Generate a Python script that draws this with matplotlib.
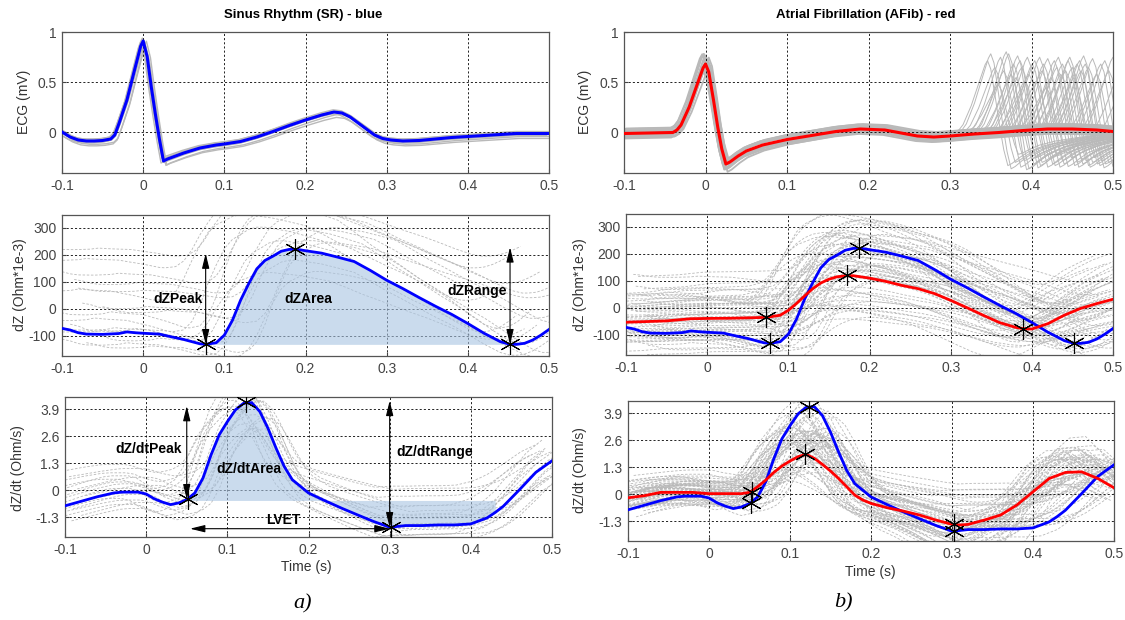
import numpy as np
import matplotlib
matplotlib.use("Agg")
import matplotlib.pyplot as plt

plt.rcParams['font.family'] = ['Liberation Sans', 'DejaVu Sans']

# ---- ECG, mean beats ----
sr_ecg_t = [-0.1, -0.09, -0.08, -0.07, -0.06, -0.05, -0.04, -0.035, -0.03, -0.025, -0.02, -0.01, -0.003,
            0.0, 0.005, 0.01, 0.015, 0.02, 0.025, 0.03, 0.04, 0.05, 0.07, 0.09, 0.1, 0.12, 0.14, 0.16, 0.18,
            0.2, 0.22, 0.235, 0.245, 0.255, 0.265, 0.275, 0.285, 0.295, 0.305, 0.32, 0.34, 0.36, 0.38, 0.4,
            0.43, 0.46, 0.5]
sr_ecg_v = [0.0, -0.05, -0.08, -0.09, -0.09, -0.085, -0.07, -0.03, 0.08, 0.2, 0.32, 0.64, 0.86,
            0.91, 0.75, 0.45, 0.18, -0.07, -0.29, -0.27, -0.24, -0.21, -0.16, -0.13, -0.12, -0.095, -0.05,
            0.005, 0.065, 0.12, 0.17, 0.2, 0.19, 0.15, 0.09, 0.03, -0.03, -0.065, -0.08, -0.09, -0.085,
            -0.07, -0.055, -0.045, -0.03, -0.015, -0.015]

af_ecg_t = [-0.1, -0.07, -0.04, -0.035, -0.03, -0.02, -0.01, -0.003, 0.0, 0.004, 0.01, 0.015, 0.02, 0.025,
            0.03, 0.04, 0.05, 0.07, 0.1, 0.13, 0.16, 0.19, 0.22, 0.24, 0.26, 0.28, 0.3, 0.33, 0.36, 0.39,
            0.42, 0.45, 0.48, 0.5]
af_ecg_v = [-0.015, -0.01, -0.005, 0.02, 0.07, 0.25, 0.48, 0.64, 0.68, 0.6, 0.31, 0.05, -0.17, -0.32,
            -0.3, -0.24, -0.19, -0.13, -0.075, -0.035, 0.005, 0.03, 0.02, -0.01, -0.04, -0.05, -0.04,
            -0.02, -0.005, 0.015, 0.03, 0.03, 0.02, 0.005]

# ---- dZ ----
sr_dz_t = [-0.1, -0.09, -0.08, -0.07, -0.05, -0.03, -0.02, -0.01, 0.0, 0.02, 0.03, 0.05, 0.06, 0.07, 0.077,
           0.09, 0.1, 0.11, 0.12, 0.13, 0.14, 0.15, 0.16, 0.17, 0.18, 0.19, 0.2, 0.22, 0.24, 0.26, 0.28,
           0.3, 0.32, 0.34, 0.36, 0.38, 0.4, 0.42, 0.44, 0.452, 0.46, 0.47, 0.48, 0.49, 0.5]
sr_dz_v = [-72, -78, -88, -93, -94, -91, -85, -88, -90, -93, -100, -113, -121, -129, -131,
           -125, -97, -42, 32, 93, 148, 179, 195, 213, 220, 220, 215, 206, 191, 175, 142,
           106, 75, 42, 10, -20, -54, -90, -121, -131, -131, -127, -115, -97, -76]

af_dz_t = [-0.1, -0.05, -0.02, 0.0, 0.03, 0.06, 0.073, 0.09, 0.1, 0.11, 0.12, 0.13, 0.14, 0.15, 0.16,
           0.172, 0.18, 0.2, 0.22, 0.24, 0.26, 0.28, 0.3, 0.32, 0.34, 0.36, 0.38, 0.39, 0.4, 0.42, 0.44,
           0.46, 0.48, 0.5]
af_dz_v = [-53, -48, -40, -39, -38, -36, -35, -27, -9, 16, 44, 71, 92, 106, 115,
           119, 119, 110, 98, 83, 71, 53, 28, 1, -27, -54, -72, -77, -78, -58, -27,
           -2, 16, 32]

# ---- dZ/dt ----
sr_dzdt_t = [-0.1, -0.08, -0.06, -0.04, -0.03, -0.01, 0.0, 0.01, 0.02, 0.03, 0.04, 0.05, 0.06, 0.07, 0.08,
             0.09, 0.1, 0.11, 0.12, 0.13, 0.14, 0.15, 0.16, 0.17, 0.18, 0.19, 0.2, 0.22, 0.24, 0.26, 0.28,
             0.3, 0.32, 0.34, 0.36, 0.38, 0.4, 0.42, 0.43, 0.44, 0.46, 0.48, 0.5]
sr_dzdt_v = [-0.76, -0.54, -0.32, -0.14, -0.1, -0.1, -0.19, -0.42, -0.58, -0.7, -0.62, -0.46, -0.14, 0.58,
             1.7, 2.66, 3.29, 3.86, 4.18, 4.21, 3.78, 2.98, 2.02, 1.14, 0.5, 0.18, -0.14, -0.51, -0.86,
             -1.19, -1.51, -1.79, -1.71, -1.71, -1.68, -1.68, -1.63, -1.34, -1.08, -0.78, 0.02, 0.85, 1.41]

af_dzdt_t = [-0.1, -0.08, -0.06, -0.04, -0.02, 0.0, 0.02, 0.04, 0.05, 0.06, 0.07, 0.08, 0.09, 0.1, 0.11,
             0.12, 0.13, 0.14, 0.15, 0.16, 0.17, 0.18, 0.19, 0.2, 0.22, 0.24, 0.26, 0.28, 0.3, 0.31, 0.32,
             0.34, 0.36, 0.38, 0.4, 0.42, 0.44, 0.46, 0.48, 0.5]
af_dzdt_v = [-0.18, -0.08, 0.08, 0.08, 0.08, 0.02, 0.02, 0.02, 0.08, 0.35, 0.67, 1.04, 1.35, 1.59, 1.8,
             1.91, 1.72, 1.43, 1.11, 0.75, 0.35, -0.05, -0.29, -0.45, -0.66, -0.82, -1.01, -1.25, -1.46,
             -1.49, -1.46, -1.25, -1.01, -0.53, 0.11, 0.75, 1.04, 1.07, 0.75, 0.3]

# ---- feature points ----
sr_dz_mark_t = [0.077, 0.187, 0.452]
sr_dz_mark_v = [-131, 222, -131]
af_dz_mark_t = [0.073, 0.172, 0.389]
af_dz_mark_v = [-33, 120, -77]
sr_dzdt_mark_t = [0.052, 0.123, 0.302]
sr_dzdt_mark_v = [-0.45, 4.25, -1.8]
af_dzdt_mark_t = [0.053, 0.119, 0.303]
af_dzdt_mark_v = [0.1, 1.95, -1.45]
sr_dzdt_mark_v_right = [-0.45, 4.2, -1.8]

# ---- individual beats (grey), as shift / scale / offset of a mean beat ----
sr_ecg_g_shift = [-0.003, 0.002, 0.004, -0.002, 0.001, 0.003, -0.001]
sr_ecg_g_scale = [1.0, 0.97, 1.03, 0.95, 1.02, 0.98, 1.01]
sr_ecg_g_off = [-0.02, 0.01, -0.03, 0.015, -0.01, -0.05, 0.02]

af_ecg_g_shift = [-0.004, -0.003, -0.002, -0.001, 0.0, 0.001, 0.002, 0.003, 0.004, -0.002, 0.002, 0.0, -0.003, 0.003]
af_ecg_g_scale = [1.1, 0.95, 1.15, 1.0, 1.05, 0.92, 1.12, 0.98, 1.08, 1.02, 0.96, 1.14, 1.06, 0.94]
af_ecg_g_off = [0.03, -0.03, 0.0, 0.04, -0.02, 0.02, -0.04, 0.05, 0.01, -0.05, 0.03, -0.01, 0.045, -0.035]

# next (irregular) AFib beats: R-peak time and amplitude factor
af_next_r = [0.346, 0.35, 0.355, 0.359, 0.362, 0.366, 0.369, 0.372, 0.375, 0.378, 0.381, 0.383, 0.386,
             0.388, 0.392, 0.395, 0.397, 0.401, 0.404, 0.406, 0.41, 0.413, 0.415, 0.418, 0.42, 0.424,
             0.428, 0.431, 0.433, 0.436, 0.438, 0.442, 0.445, 0.447, 0.45, 0.452, 0.456, 0.459, 0.461,
             0.464, 0.466, 0.47, 0.475, 0.48, 0.485, 0.49, 0.495, 0.5, 0.51, 0.52, 0.53]
af_next_amp = [1.05, 1.15, 0.95, 0.7, 1.1, 0.9, 1.18, 1.15, 0.85, 1.0, 0.8, 1.12, 1.05, 0.95, 0.75, 1.1,
               0.85, 1.0, 1.05, 0.75, 1.1, 0.9, 1.0, 0.65, 1.08, 0.8, 1.05, 0.95, 1.1, 0.85, 1.0, 0.9,
               1.05, 1.1, 0.95, 0.8, 1.0, 1.05, 0.9, 1.12, 1.0, 0.95, 1.08, 0.85, 1.0, 1.05, 0.9, 1.1,
               0.95, 1.0, 0.9]

sr_dz_g_shift = [-0.06, -0.04, -0.03, -0.02, -0.01, 0.0, 0.01, 0.02, 0.03, 0.05, -0.05, 0.04, 0.015, -0.015, 0.025, -0.035]
sr_dz_g_scale = [0.9, 1.1, 0.7, 1.3, 0.8, 1.0, 1.2, 0.6, 0.9, 1.0, 0.75, 1.15, 0.85, 1.05, 0.95, 0.65]
sr_dz_g_off = [150, 60, -20, 100, 200, -40, 30, 120, -60, 80, 250, -10, 170, 20, 90, 280]

af_dz_g_shift = [-0.04, -0.035, -0.03, -0.028, -0.025, -0.022, -0.02, -0.018, -0.015, -0.012, -0.01, -0.008,
                 -0.006, -0.004, -0.002, 0.0, 0.002, 0.004, 0.006, 0.008, 0.01, 0.012, 0.014, 0.016, 0.018,
                 0.02, 0.022, 0.025, 0.028, 0.03, 0.033, 0.036, 0.04, -0.032, -0.016, 0.0, 0.015, 0.026,
                 -0.005, 0.009]
af_dz_g_scale = [1.2, 0.8, 1.5, 0.6, 1.1, 1.7, 0.9, 1.3, 0.7, 1.9, 1.0, 1.4, 0.5, 1.2, 0.8, 1.6, 1.1, 0.7,
                 1.3, 0.9, 1.8, 1.0, 0.6, 1.4, 1.2, 0.8, 1.5, 1.0, 0.7, 1.3, 1.1, 0.9, 1.6, 1.0, 2.0, 0.4,
                 1.2, 0.8, 1.4, 1.0]
af_dz_g_off = [60, -20, 100, -60, 20, 140, -40, 80, -90, 50, 0, 120, -100, 30, -50, 90, 10, -70, 60, -30,
               110, 40, -80, 70, 0, -40, 150, 20, -60, 90, -10, 50, 130, -110, 30, -20, 180, -130, 70, 0]
# AFib beats that look more like the SR-shaped (steeper) curve
af_dz_g2_shift = [-0.035, -0.025, -0.018, -0.01, -0.004, 0.0, 0.006, 0.012, 0.018, 0.024, 0.03, 0.037,
                  -0.03, -0.014, 0.002, 0.015, 0.027, -0.007, 0.009, -0.021, 0.021, 0.034, -0.038, 0.004]
af_dz_g2_scale = [0.6, 0.9, 0.5, 1.1, 0.7, 0.8, 1.0, 0.55, 0.85, 0.65, 1.05, 0.75, 0.95, 0.6, 0.9, 0.7,
                  0.8, 1.15, 0.5, 0.85, 0.6, 0.9, 0.7, 1.0]
af_dz_g2_off = [30, -20, 80, 0, 50, -60, 90, 120, -30, 20, 40, -50, 140, 60, -10, 100, -80, 10, 160, -40,
                70, 0, 110, -20]

sr_dzdt_g_shift = [-0.025, -0.02, -0.015, -0.01, -0.005, 0.0, 0.005, 0.01, 0.015, 0.02, 0.025, -0.012,
                   0.008, -0.018, 0.012, 0.003, -0.007, 0.018]
sr_dzdt_g_scale = [0.8, 1.1, 0.7, 1.2, 0.9, 1.0, 0.6, 1.05, 0.85, 0.95, 0.75, 1.15, 0.9, 0.65, 1.0, 0.8, 1.1, 0.7]
sr_dzdt_g_off = [0.6, -0.3, 0.9, 0.2, -0.6, 0.4, 1.1, -0.1, 0.7, -0.5, 0.3, 0.8, -0.8, 1.3, 0.1, -0.4, 0.5, 0.0]

af_dzdt_g_shift = [-0.03, -0.027, -0.024, -0.021, -0.018, -0.015, -0.012, -0.009, -0.006, -0.003, 0.0,
                   0.003, 0.006, 0.009, 0.012, 0.015, 0.018, 0.021, 0.024, 0.027, 0.03, -0.028, -0.02,
                   -0.013, -0.005, 0.002, 0.01, 0.017, 0.025, -0.016, -0.008, 0.005, 0.014, 0.022, -0.024,
                   0.0, -0.01, 0.008, 0.019, -0.002]
af_dzdt_g_scale = [1.5, 0.8, 2.0, 1.2, 0.6, 1.8, 1.0, 2.3, 1.4, 0.9, 1.6, 1.1, 2.1, 0.7, 1.3, 1.9, 1.0, 1.5,
                   0.8, 2.2, 1.2, 1.7, 0.9, 1.4, 2.0, 1.1, 0.6, 1.6, 1.3, 1.8, 1.0, 2.4, 1.2, 0.8, 1.5, 1.9,
                   1.1, 1.4, 0.9, 1.7]
af_dzdt_g_off = [0.2, -0.3, 0.0, 0.4, -0.5, 0.1, 0.6, -0.2, 0.3, -0.6, 0.0, 0.5, -0.1, 0.2, -0.4, 0.3, 0.7,
                 -0.3, 0.1, -0.2, 0.4, 0.0, -0.5, 0.2, 0.1, 0.6, -0.1, -0.3, 0.5, 0.0, -0.6, 0.2, 0.3, 0.8,
                 -0.2, 0.1, -0.4, 0.4, 0.0, 0.3]
af_dzdt_g2_shift = [-0.03, -0.022, -0.015, -0.008, -0.002, 0.004, 0.01, 0.016, 0.022, 0.028, -0.026,
                    -0.012, 0.0, 0.013, 0.025, -0.018, 0.007, 0.019, -0.005, 0.031]
af_dzdt_g2_scale = [0.5, 0.8, 0.35, 0.95, 0.6, 0.45, 1.05, 0.7, 0.4, 0.85, 0.55, 0.75, 0.9, 0.5, 0.65,
                    1.0, 0.4, 0.8, 0.6, 0.7]
af_dzdt_g2_off = [0.4, -0.2, 0.8, 0.0, 0.5, 1.0, -0.3, 0.2, 0.6, 0.1, 0.9, -0.1, 0.3, 0.7, -0.4, 0.2,
                  1.2, -0.2, 0.5, 0.0]

xticks = [-0.1, 0, 0.1, 0.2, 0.3, 0.4, 0.5]
xticklabels = ['-0.1', '0', '0.1', '0.2', '0.3', '0.4', '0.5']

W, H = 1125, 620
fig = plt.figure(figsize=(W / 100, H / 100), dpi=100)


def box(l, t, r, b):
    return [l / W, 1 - b / H, (r - l) / W, (b - t) / H]


def style(ax, ylim, yt, ytl):
    ax.set_xlim(-0.1, 0.5)
    ax.set_ylim(*ylim)
    ax.set_xticks(xticks)
    ax.set_xticklabels(xticklabels)
    ax.set_yticks(yt)
    ax.set_yticklabels(ytl)
    ax.grid(True, color='k', linestyle=(0, (2.5, 2.5)), linewidth=0.6)
    ax.tick_params(direction='in', length=3, labelsize=10, colors='#444444', pad=4)
    for s in ax.spines.values():
        s.set_color('#555555')
        s.set_linewidth(0.9)


def grey(ax, t, v, shifts, scales, offs, dashed=True, lw=0.6):
    t = np.asarray(t)
    v = np.asarray(v)
    for s, a, o in zip(shifts, scales, offs):
        ax.plot(t + s, a * v + o, color='#b9b9b9', lw=lw,
                linestyle=(0, (3, 2)) if dashed else '-', zorder=1)


def marks(ax, t, v):
    ax.plot(t, v, linestyle='none', marker=(6, 2, 0), ms=15, mec='k', mew=0.8, zorder=6)


def darrow(ax, p0, p1):
    ax.annotate('', xy=p1, xytext=p0,
                arrowprops=dict(arrowstyle='<|-|>,head_length=0.9,head_width=0.22',
                                color='k', lw=0.8, shrinkA=0, shrinkB=0), zorder=7)


ecg_lim = (-0.41, 1.0)
dz_lim = (-174, 347)
dzdt_lim = (-2.26, 4.48)
ecg_ticks = ([0, 0.5, 1], ['0', '0.5', '1'])
dz_ticks = ([-100, 0, 100, 200, 300], ['-100', '0', '100', '200', '300'])
dzdt_ticks = ([-1.3, 0, 1.3, 2.6, 3.9], ['-1.3', '0', '1.3', '2.6', '3.9'])

# ================= left column (SR) =================
a1 = fig.add_axes(box(62, 32, 549, 173))
grey(a1, sr_ecg_t, sr_ecg_v, sr_ecg_g_shift, sr_ecg_g_scale, sr_ecg_g_off, dashed=False, lw=1.0)
a1.plot(sr_ecg_t, sr_ecg_v, color='#0000ff', lw=2.2, zorder=5)
style(a1, ecg_lim, *ecg_ticks)

a2 = fig.add_axes(box(62, 215, 549, 356))
grey(a2, sr_dz_t, sr_dz_v, sr_dz_g_shift, sr_dz_g_scale, sr_dz_g_off)
t2 = np.array(sr_dz_t)
a2.fill_between(t2, sr_dz_v, sr_dz_mark_v[0], where=(t2 >= sr_dz_mark_t[0]) & (t2 <= sr_dz_mark_t[2]),
                color='#a8c4e2', alpha=0.6, lw=0, zorder=2)
a2.plot(sr_dz_t, sr_dz_v, color='#0000ff', lw=2.0, zorder=5)
marks(a2, sr_dz_mark_t, sr_dz_mark_v)
darrow(a2, (sr_dz_mark_t[0], sr_dz_mark_v[0]), (sr_dz_mark_t[0], 205))
darrow(a2, (sr_dz_mark_t[2], sr_dz_mark_v[2]), (sr_dz_mark_t[2], 228))
a2.text(0.043, 35, 'dZPeak', ha='center', va='center', fontsize=10, fontweight='bold', zorder=8)
a2.text(0.203, 38, 'dZArea', ha='center', va='center', fontsize=10, fontweight='bold', zorder=8)
a2.text(0.411, 65, 'dZRange', ha='center', va='center', fontsize=10, fontweight='bold', zorder=8)
style(a2, dz_lim, *dz_ticks)

a3 = fig.add_axes(box(65, 397, 552, 537))
grey(a3, sr_dzdt_t, sr_dzdt_v, sr_dzdt_g_shift, sr_dzdt_g_scale, sr_dzdt_g_off)
t3 = np.array(sr_dzdt_t)
a3.fill_between(t3, sr_dzdt_v, -0.5, where=(t3 >= 0.05) & (t3 <= 0.43),
                color='#a8c4e2', alpha=0.6, lw=0, zorder=2)
a3.plot(sr_dzdt_t, sr_dzdt_v, color='#0000ff', lw=2.0, zorder=5)
marks(a3, sr_dzdt_mark_t, sr_dzdt_mark_v)
darrow(a3, (0.05, sr_dzdt_mark_v[0]), (0.05, 4.05))
darrow(a3, (0.3, sr_dzdt_mark_v[2]), (0.3, 4.3))
darrow(a3, (0.054, -1.86), (0.3, -1.86))
a3.text(0.003, 1.97, 'dZ/dtPeak', ha='center', va='center', fontsize=10, fontweight='bold', zorder=8)
a3.text(0.127, 1.02, 'dZ/dtArea', ha='center', va='center', fontsize=10, fontweight='bold', zorder=8)
a3.text(0.356, 1.81, 'dZ/dtRange', ha='center', va='center', fontsize=10, fontweight='bold', zorder=8)
a3.text(0.169, -1.42, 'LVET', ha='center', va='center', fontsize=10, fontweight='bold', zorder=8)
style(a3, dzdt_lim, *dzdt_ticks)

# ================= right column (AFib) =================
b1 = fig.add_axes(box(624, 32, 1113, 173))
grey(b1, af_ecg_t, af_ecg_v, af_ecg_g_shift, af_ecg_g_scale, af_ecg_g_off, dashed=False, lw=1.3)
for r, a in zip(af_next_r, af_next_amp):
    b1.plot(np.asarray(af_ecg_t) + r, a * np.asarray(af_ecg_v), color='#b9b9b9', lw=0.7, zorder=1)
b1.plot(af_ecg_t, af_ecg_v, color='#ff0000', lw=2.2, zorder=5)
style(b1, ecg_lim, *ecg_ticks)

b2 = fig.add_axes(box(626, 214, 1113, 355))
grey(b2, af_dz_t, af_dz_v, af_dz_g_shift, af_dz_g_scale, af_dz_g_off)
grey(b2, sr_dz_t, sr_dz_v, af_dz_g2_shift, af_dz_g2_scale, af_dz_g2_off)
b2.plot(sr_dz_t, sr_dz_v, color='#0000ff', lw=2.0, zorder=5)
b2.plot(af_dz_t, af_dz_v, color='#ff0000', lw=2.0, zorder=5)
marks(b2, sr_dz_mark_t, sr_dz_mark_v)
marks(b2, af_dz_mark_t, af_dz_mark_v)
style(b2, dz_lim, *dz_ticks)

b3 = fig.add_axes(box(628, 401, 1114, 541))
grey(b3, af_dzdt_t, af_dzdt_v, af_dzdt_g_shift, af_dzdt_g_scale, af_dzdt_g_off)
grey(b3, sr_dzdt_t, sr_dzdt_v, af_dzdt_g2_shift, af_dzdt_g2_scale, af_dzdt_g2_off)
b3.plot(sr_dzdt_t, sr_dzdt_v, color='#0000ff', lw=2.0, zorder=5)
b3.plot(af_dzdt_t, af_dzdt_v, color='#ff0000', lw=2.0, zorder=5)
marks(b3, sr_dzdt_mark_t, sr_dzdt_mark_v_right)
marks(b3, af_dzdt_mark_t, af_dzdt_mark_v)
style(b3, dzdt_lim, *dzdt_ticks)

# ---- titles and labels ----
lab = dict(fontsize=10, color='#333333', ha='center', va='center')
fig.text(303 / W, 1 - 15 / H, 'Sinus Rhythm (SR) - blue', fontsize=9.5, fontweight='bold', ha='center', va='center')
fig.text(866 / W, 1 - 15 / H, 'Atrial Fibrillation (AFib) - red', fontsize=9.5, fontweight='bold', ha='center', va='center')
for x, y, s in [(24, 102, 'ECG (mV)'), (20, 285, 'dZ (Ohm*1e-3)'), (18, 468, 'dZ/dt (Ohm/s)'),
                (585, 102, 'ECG (mV)'), (580, 285, 'dZ (Ohm*1e-3)'), (580, 470, 'dZ/dt (Ohm/s)')]:
    fig.text(x / W, 1 - y / H, s, rotation=90, **lab)
fig.text(306 / W, 1 - 567 / H, 'Time (s)', **lab)
fig.text(870 / W, 1 - 572 / H, 'Time (s)', **lab)
fig.text(303 / W, 1 - 604 / H, 'a)', fontsize=16, fontstyle='italic', family='Liberation Serif', ha='center', va='center')
fig.text(843 / W, 1 - 603 / H, 'b)', fontsize=16, fontstyle='italic', family='Liberation Serif', ha='center', va='center')

fig.savefig('out.png', dpi=100)
